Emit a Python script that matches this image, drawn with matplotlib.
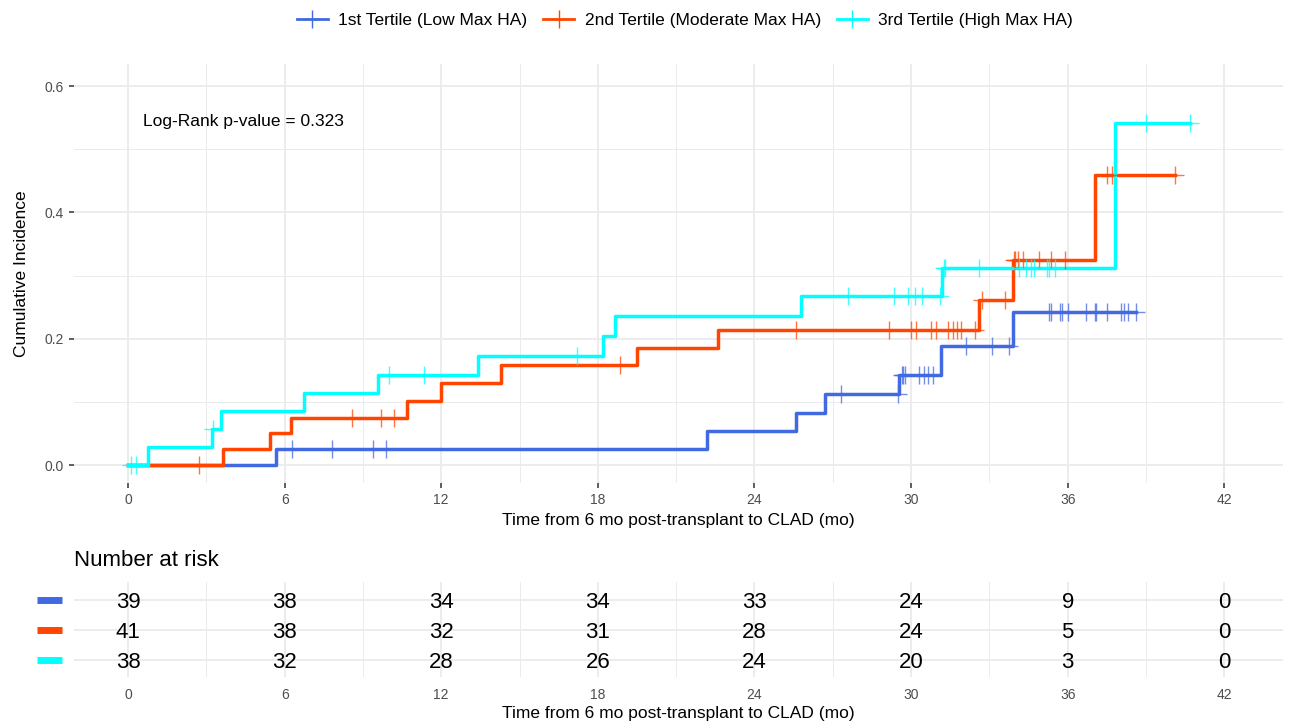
import matplotlib
matplotlib.use("Agg")
import matplotlib.pyplot as plt
from matplotlib.lines import Line2D
from matplotlib.transforms import blended_transform_factory
import numpy as np

plt.rcParams['font.family'] = ['Liberation Sans', 'DejaVu Sans']

group_labels = ["1st Tertile (Low Max HA)", "2nd Tertile (Moderate Max HA)", "3rd Tertile (High Max HA)"]
group_colors = ["#4169E1", "#FF4500", "#00FFFF"]

# event times (months) and cumulative incidence after each step
t1_steps = [5.67, 22.2, 25.6, 26.7, 29.54, 31.15, 33.9]
y1_steps = [0.026, 0.054, 0.083, 0.112, 0.142, 0.188, 0.242]
t1_cens = [6.3, 7.8, 9.4, 9.9, 27.3, 29.5, 29.65, 29.7, 29.77, 30.3, 30.5, 30.65, 30.85,
           32.1, 33.1, 33.75, 35.3, 35.35, 35.7, 35.8, 36.0, 36.7, 37.05, 37.1, 37.5,
           38.05, 38.15, 38.3, 38.6]

t2_steps = [3.65, 5.44, 6.24, 10.7, 12.0, 14.3, 19.5, 22.6, 32.6, 33.9, 37.05]
y2_steps = [0.025, 0.05, 0.075, 0.102, 0.13, 0.158, 0.186, 0.213, 0.262, 0.324, 0.46]
t2_cens = [2.7, 8.6, 9.7, 10.2, 18.85, 25.6, 29.15, 30.0, 30.2, 30.75, 30.95, 31.4, 31.6,
           31.75, 31.9, 32.45, 32.7, 33.6, 33.95, 34.0, 34.1, 34.3, 34.9, 35.35, 35.9,
           37.5, 37.7, 40.1]

t3_steps = [0.77, 3.2, 3.56, 6.75, 9.57, 13.4, 18.2, 18.65, 25.8, 31.2, 37.8]
y3_steps = [0.028, 0.057, 0.085, 0.114, 0.142, 0.172, 0.204, 0.236, 0.268, 0.312, 0.541]
t3_cens = [0.1, 0.3, 3.25, 10.0, 11.35, 17.2, 27.6, 29.35, 29.9, 30.15, 30.4, 31.1, 31.25,
           31.3, 32.6, 34.15, 34.4, 34.6, 34.7, 35.2, 35.3, 35.5, 39.0, 40.7]

risk_times = [0, 6, 12, 18, 24, 30, 36, 42]
risk_1 = [39, 38, 34, 34, 33, 24, 9, 0]
risk_2 = [41, 38, 32, 31, 28, 24, 5, 0]
risk_3 = [38, 32, 28, 26, 24, 20, 3, 0]

pval_text = "Log-Rank p-value = 0.323"
xlab = "Time from 6 mo post-transplant to CLAD (mo)"

W, H = 1294, 726
fig = plt.figure(figsize=(W / 100, H / 100), dpi=100)

def fx(px):
    return px / W

def fy(py):
    return 1 - py / H

grid_col = "#EBEBEB"
tick_col = "#4D4D4D"

ax = fig.add_axes([fx(74), fy(483), fx(1283) - fx(74), fy(64) - fy(483)])
ax.set_xlim(-2.07, 44.25)
ax.set_ylim(-0.0285, 0.635)

groups = [(t1_steps, y1_steps, t1_cens), (t2_steps, y2_steps, t2_cens), (t3_steps, y3_steps, t3_cens)]
for (ts, ys, tc), col in zip(groups, group_colors):
    end = max(tc + ts)
    xs = [0] + ts + [end]
    yv = [0] + ys + [ys[-1]]
    ax.step(xs, yv, where='post', color=col, lw=2.5, zorder=3)
    tc = np.array(tc)
    idx = np.searchsorted(ts, tc, side='right') - 1
    yc = np.where(idx >= 0, np.array(ys)[np.clip(idx, 0, None)], 0.0)
    ax.plot(tc, yc, ls='none', marker='+', ms=13, mew=1.0, color=col, alpha=0.75, zorder=4)

ax.text(0.57, 0.544, pval_text, ha='left', va='center', fontsize=12.5, color='black')

ax.set_xticks(np.arange(0, 43, 6))
ax.set_xticks(np.arange(3, 43, 6), minor=True)
ax.set_yticks([0, 0.2, 0.4, 0.6])
ax.set_yticks([0.1, 0.3, 0.5], minor=True)
ax.set_yticklabels(["0.0", "0.2", "0.4", "0.6"])
ax.grid(True, which='major', color=grid_col, lw=1.3, zorder=0)
ax.grid(True, which='minor', color=grid_col, lw=0.7, zorder=0)
ax.set_axisbelow(True)
for s in ax.spines.values():
    s.set_visible(False)
ax.tick_params(which='major', length=3.5, width=1.1, color='#333333', labelsize=10, labelcolor=tick_col, pad=4)
ax.tick_params(which='minor', length=0)
ax.set_xlabel(xlab, fontsize=12.5, labelpad=4)
ax.set_ylabel("Cumulative Incidence", fontsize=12.5, labelpad=11)

# legend on top
handles = [Line2D([0], [0], color=c, lw=2, marker='+', ms=13, mew=1.0) for c in group_colors]
fig.legend(handles, group_labels, loc='center', bbox_to_anchor=(fx(685), fy(20)), ncol=3,
           frameon=False, fontsize=12.5, handlelength=1.8, handletextpad=0.6, columnspacing=0.9)

# number at risk table
tab = fig.add_axes([fx(74), fy(677), fx(1283) - fx(74), fy(582) - fy(677)])
tab.set_xlim(-2.07, 44.25)
tab.set_ylim(0.433, 3.6)
rows = [3, 2, 1]
for r, counts in zip(rows, [risk_1, risk_2, risk_3]):
    for t, n in zip(risk_times, counts):
        tab.text(t, r - 0.08, str(n), ha='center', va='center', fontsize=16, color='black')
tab.set_xticks(risk_times)
tab.set_xticks(np.arange(3, 43, 6), minor=True)
tab.set_yticks(rows)
tab.set_yticklabels([])
tab.grid(True, which='major', color=grid_col, lw=1.3, zorder=0)
tab.grid(True, which='minor', axis='x', color=grid_col, lw=0.7, zorder=0)
for s in tab.spines.values():
    s.set_visible(False)
tab.tick_params(which='both', length=0, labelsize=10, labelcolor=tick_col, pad=8)
tab.set_xlabel(xlab, fontsize=12.5, labelpad=3)

tr = blended_transform_factory(fig.transFigure, tab.transData)
for r, col in zip(rows, group_colors):
    tab.plot([fx(37), fx(62)], [r, r], color=col, lw=5, solid_capstyle='butt', transform=tr, clip_on=False)

fig.text(fx(74), fy(560), "Number at risk", ha='left', va='center', fontsize=16, color='black')

fig.savefig("out.png", dpi=100)
